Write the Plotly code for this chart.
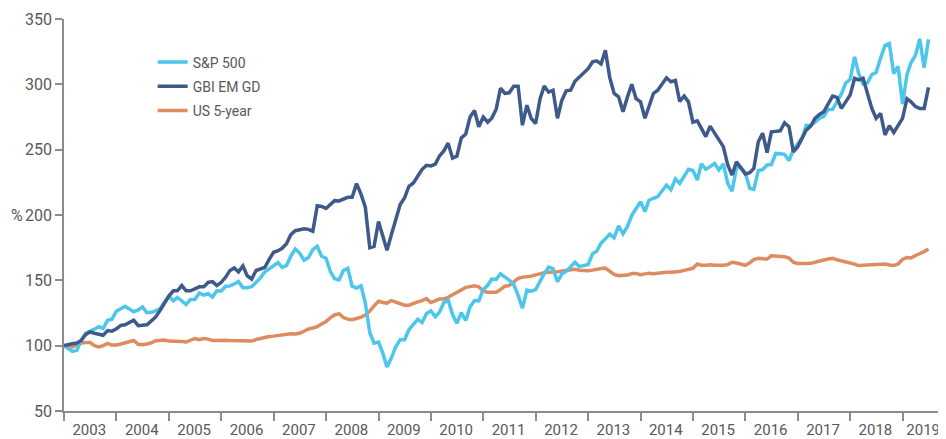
import pandas as pd
import plotly.graph_objects as go

# Monthly observations, Dec 2002 (=100) to Jun 2019
dates = pd.date_range("2003-01-01", periods=199, freq="MS")

sp500 = [
    100.0,
    97.3, 95.6, 96.4, 104.2, 109.5, 110.8, 112.6, 114.6, 113.2, 119.4, 120.3, 126.4,
    128.6, 130.1, 128.0, 125.9, 127.4, 129.7, 125.2, 125.5, 126.7, 128.5, 133.4, 137.8,
    134.3, 136.8, 134.2, 131.5, 135.4, 135.4, 140.3, 138.7, 139.7, 137.2, 142.0, 141.9,
    145.5, 145.6, 147.2, 149.0, 144.4, 144.4, 145.1, 148.2, 151.8, 156.6, 159.2, 161.2,
    163.5, 159.9, 161.5, 168.5, 174.0, 170.9, 165.4, 167.5, 173.5, 176.1, 168.4, 166.9,
    156.7, 151.2, 150.3, 157.5, 159.2, 145.5, 144.1, 145.8, 132.6, 110.1, 101.9, 102.7,
    93.9, 83.6, 90.7, 99.2, 104.5, 104.5, 112.2, 116.0, 120.2, 117.8, 124.5, 126.7,
    122.1, 125.5, 132.9, 134.9, 123.8, 117.2, 125.2, 119.3, 129.7, 134.5, 134.2, 142.9,
    146.2, 150.9, 150.7, 155.0, 152.9, 150.1, 146.9, 138.5, 128.6, 142.5, 141.7, 142.9,
    149.2, 155.2, 160.1, 158.9, 148.9, 154.8, 156.8, 159.9, 163.8, 160.5, 161.0, 162.1,
    170.3, 172.2, 178.4, 181.6, 185.4, 182.6, 191.6, 185.6, 191.1, 199.7, 205.3, 210.1,
    202.6, 211.3, 212.8, 214.1, 218.6, 222.8, 219.4, 227.7, 224.2, 229.4, 235.0, 234.0,
    226.8, 239.2, 235.0, 237.0, 239.5, 234.5, 239.1, 224.2, 218.2, 236.3, 236.5, 232.3,
    220.5, 219.6, 234.1, 234.7, 238.3, 238.6, 247.1, 246.8, 246.4, 241.7, 249.9, 254.5,
    259.0, 268.7, 268.5, 271.0, 274.1, 275.4, 280.8, 280.9, 286.4, 292.7, 300.9, 303.9,
    321.0, 308.5, 300.2, 301.0, 307.5, 309.0, 320.1, 329.8, 331.2, 308.2, 313.7, 284.9,
    307.4, 316.5, 322.2, 334.8, 312.8, 334.4,
]

gbi_em_gd = [
    100.0,
    101.0, 101.5, 102.0, 104.0, 108.5, 110.5, 109.5, 108.5, 108.0, 111.5, 111.0, 113.0,
    115.5, 116.0, 118.0, 119.5, 115.3, 115.5, 116.0, 119.0, 122.0, 127.0, 133.0, 138.0,
    142.0, 142.0, 146.0, 142.0, 142.0, 143.5, 145.0, 145.0, 148.4, 149.0, 146.0, 148.5,
    152.5, 157.4, 159.5, 156.5, 161.0, 153.5, 151.0, 157.5, 158.5, 160.0, 166.0, 171.5,
    172.7, 174.5, 178.0, 185.0, 188.0, 188.5, 189.5, 189.0, 187.5, 207.0, 206.5, 205.0,
    208.0, 211.0, 210.8, 212.0, 213.5, 213.5, 224.0, 216.0, 206.0, 175.0, 176.0, 195.0,
    184.0, 173.0, 185.0, 196.0, 208.0, 213.0, 222.0, 224.5, 230.0, 235.0, 238.0, 237.6,
    239.0, 245.0, 249.0, 255.0, 243.5, 245.0, 259.0, 262.0, 275.0, 280.0, 267.5, 275.0,
    271.0, 274.0, 281.0, 297.0, 293.0, 293.5, 298.6, 298.6, 268.7, 284.0, 274.0, 270.0,
    289.0, 298.6, 294.0, 295.5, 274.0, 287.5, 295.0, 295.5, 302.4, 305.8, 309.0, 312.0,
    317.3, 318.0, 315.6, 326.0, 305.0, 293.0, 290.5, 279.0, 290.0, 300.0, 289.0, 286.6,
    274.0, 283.0, 293.0, 295.5, 300.0, 305.0, 302.0, 303.0, 287.0, 291.0, 286.6, 271.0,
    272.0, 266.0, 260.0, 268.0, 262.6, 257.5, 252.3, 238.3, 230.6, 240.8, 235.7, 231.4,
    232.4, 235.7, 256.0, 262.6, 247.7, 263.6, 264.0, 264.4, 270.6, 267.5, 248.4, 252.3,
    259.0, 265.0, 268.0, 274.0, 277.0, 279.0, 285.0, 291.0, 290.0, 281.6, 286.6, 291.8,
    304.6, 303.4, 304.6, 294.0, 281.6, 274.0, 277.8, 261.3, 268.3, 263.2, 269.0, 274.0,
    289.0, 286.6, 283.0, 281.6, 281.6, 297.6,
]

us_5_year = [
    100.0,
    99.5, 99.0, 100.5, 102.0, 102.5, 102.5, 100.0, 99.0, 100.0, 101.8, 100.5, 100.5,
    101.3, 102.3, 103.5, 104.0, 101.0, 100.8, 101.3, 102.2, 103.8, 104.2, 104.3, 103.5,
    103.5, 103.8, 103.2, 102.8, 104.5, 105.5, 104.6, 105.5, 105.0, 104.0, 104.0, 104.3,
    104.2, 104.0, 103.8, 103.5, 103.3, 103.3, 103.5, 104.7, 105.5, 106.5, 107.0, 107.3,
    107.8, 108.3, 109.2, 109.2, 109.0, 109.5, 111.0, 112.8, 113.5, 114.5, 116.5, 118.5,
    121.5, 123.5, 124.5, 121.5, 120.3, 119.8, 120.8, 121.8, 123.5, 126.5, 130.5, 134.0,
    133.0, 132.6, 134.5, 133.5, 131.8, 131.0, 131.0, 132.5, 133.5, 134.5, 136.0, 133.0,
    134.5, 135.7, 135.8, 137.0, 139.0, 140.8, 142.7, 144.6, 145.2, 145.8, 145.0, 141.8,
    140.8, 140.8, 140.8, 143.0, 145.5, 146.0, 148.5, 151.5, 152.3, 152.6, 153.2, 154.2,
    155.3, 155.8, 156.1, 156.1, 156.5, 157.2, 157.8, 158.5, 158.5, 157.8, 157.4, 157.4,
    157.8, 158.6, 159.0, 159.4, 157.0, 154.5, 153.6, 153.8, 154.0, 155.2, 155.3, 154.3,
    154.8, 155.5, 155.0, 155.5, 156.0, 156.1, 156.1, 156.2, 156.8, 157.6, 158.4, 159.2,
    162.5, 161.5, 161.6, 162.0, 161.6, 161.3, 161.6, 162.0, 163.8, 163.3, 162.4, 161.5,
    163.5, 165.8, 166.8, 166.8, 166.3, 168.8, 168.6, 168.1, 168.1, 167.0, 163.8, 162.8,
    162.6, 162.8, 163.0, 164.0, 164.9, 165.6, 166.3, 166.8, 165.8, 165.0, 164.4, 163.8,
    162.4, 161.3, 161.5, 162.0, 161.9, 161.8, 162.2, 162.5, 161.8, 161.3, 162.5, 166.0,
    167.5, 167.1, 169.0, 170.2, 172.0, 174.0,
]

series_names = ["S&P 500", "GBI EM GD", "US 5-year"]
y_ticks = [50, 100, 150, 200, 250, 300, 350]
year_labels = [str(y) for y in range(2003, 2020)]
# about mid-year, centred under each year; the last one is nudged in from the window edge
year_label_pos = [f"{y}-06-26" for y in range(2003, 2019)] + ["2019-05-25"]

FONT = "Roboto, Liberation Sans, sans-serif"
GREY = "#595959"
AXIS = "#8c8c8c"

fig = go.Figure()
# draw order: US 5-year at bottom, S&P, then GBI on top; legend order kept by rank
fig.add_trace(go.Scatter(x=dates, y=us_5_year, name=series_names[2], mode="lines",
                         line=dict(color="#dc8c5f", width=3.5), legendrank=3, legendgroup="c"))
fig.add_trace(go.Scatter(x=dates, y=sp500, name=series_names[0], mode="lines",
                         line=dict(color="#4cc6ea", width=3.5), legendrank=1, legendgroup="a"))
fig.add_trace(go.Scatter(x=dates, y=gbi_em_gd, name=series_names[1], mode="lines",
                         line=dict(color="#3e5a8a", width=3.5), legendrank=2, legendgroup="b"))

# the page body has an 8px margin, so the figure is sized to fill the rest of the window
fig.update_layout(
    width=938, height=431,
    margin=dict(l=56, r=0, t=11, b=28, autoexpand=False),
    paper_bgcolor="white", plot_bgcolor="white",
    font=dict(family=FONT, size=16, color=GREY),
    showlegend=True,
    legend=dict(x=0.1005, y=0.93, xanchor="left", yanchor="top",
                font=dict(family=FONT, size=14, color=GREY),
                bgcolor="rgba(0,0,0,0)", tracegroupgap=3),
    xaxis=dict(
        type="date",
        range=["2003-01-01", "2019-10-31"],
        tickvals=year_label_pos, ticktext=year_labels,
        ticklabeloverflow="allow",
        showgrid=False, zeroline=False, automargin=False,
        showline=True, linecolor=AXIS, linewidth=1.5,
        ticks="outside", ticklen=4, tickcolor="rgba(0,0,0,0)",
        minor=dict(ticks="outside", ticklen=8, tickcolor=AXIS, tickwidth=1.5,
                   dtick="M12", tick0="2003-01-01", showgrid=False),
        tickfont=dict(family=FONT, size=15, color=GREY),
    ),
    yaxis=dict(
        range=[50, 350], tickvals=y_ticks,
        showgrid=False, zeroline=False, automargin=False,
        showline=True, linecolor=AXIS, linewidth=1.5,
        ticks="outside", ticklen=7, tickcolor=AXIS, tickwidth=1.5,
        tickfont=dict(family=FONT, size=16, color=GREY),
    ),
    annotations=[dict(text="%", xref="paper", yref="y", x=-0.0533, y=200,
                      xanchor="center", yanchor="middle", showarrow=False,
                      font=dict(family=FONT, size=16, color=GREY))],
)

fig.write_html("out.html")
